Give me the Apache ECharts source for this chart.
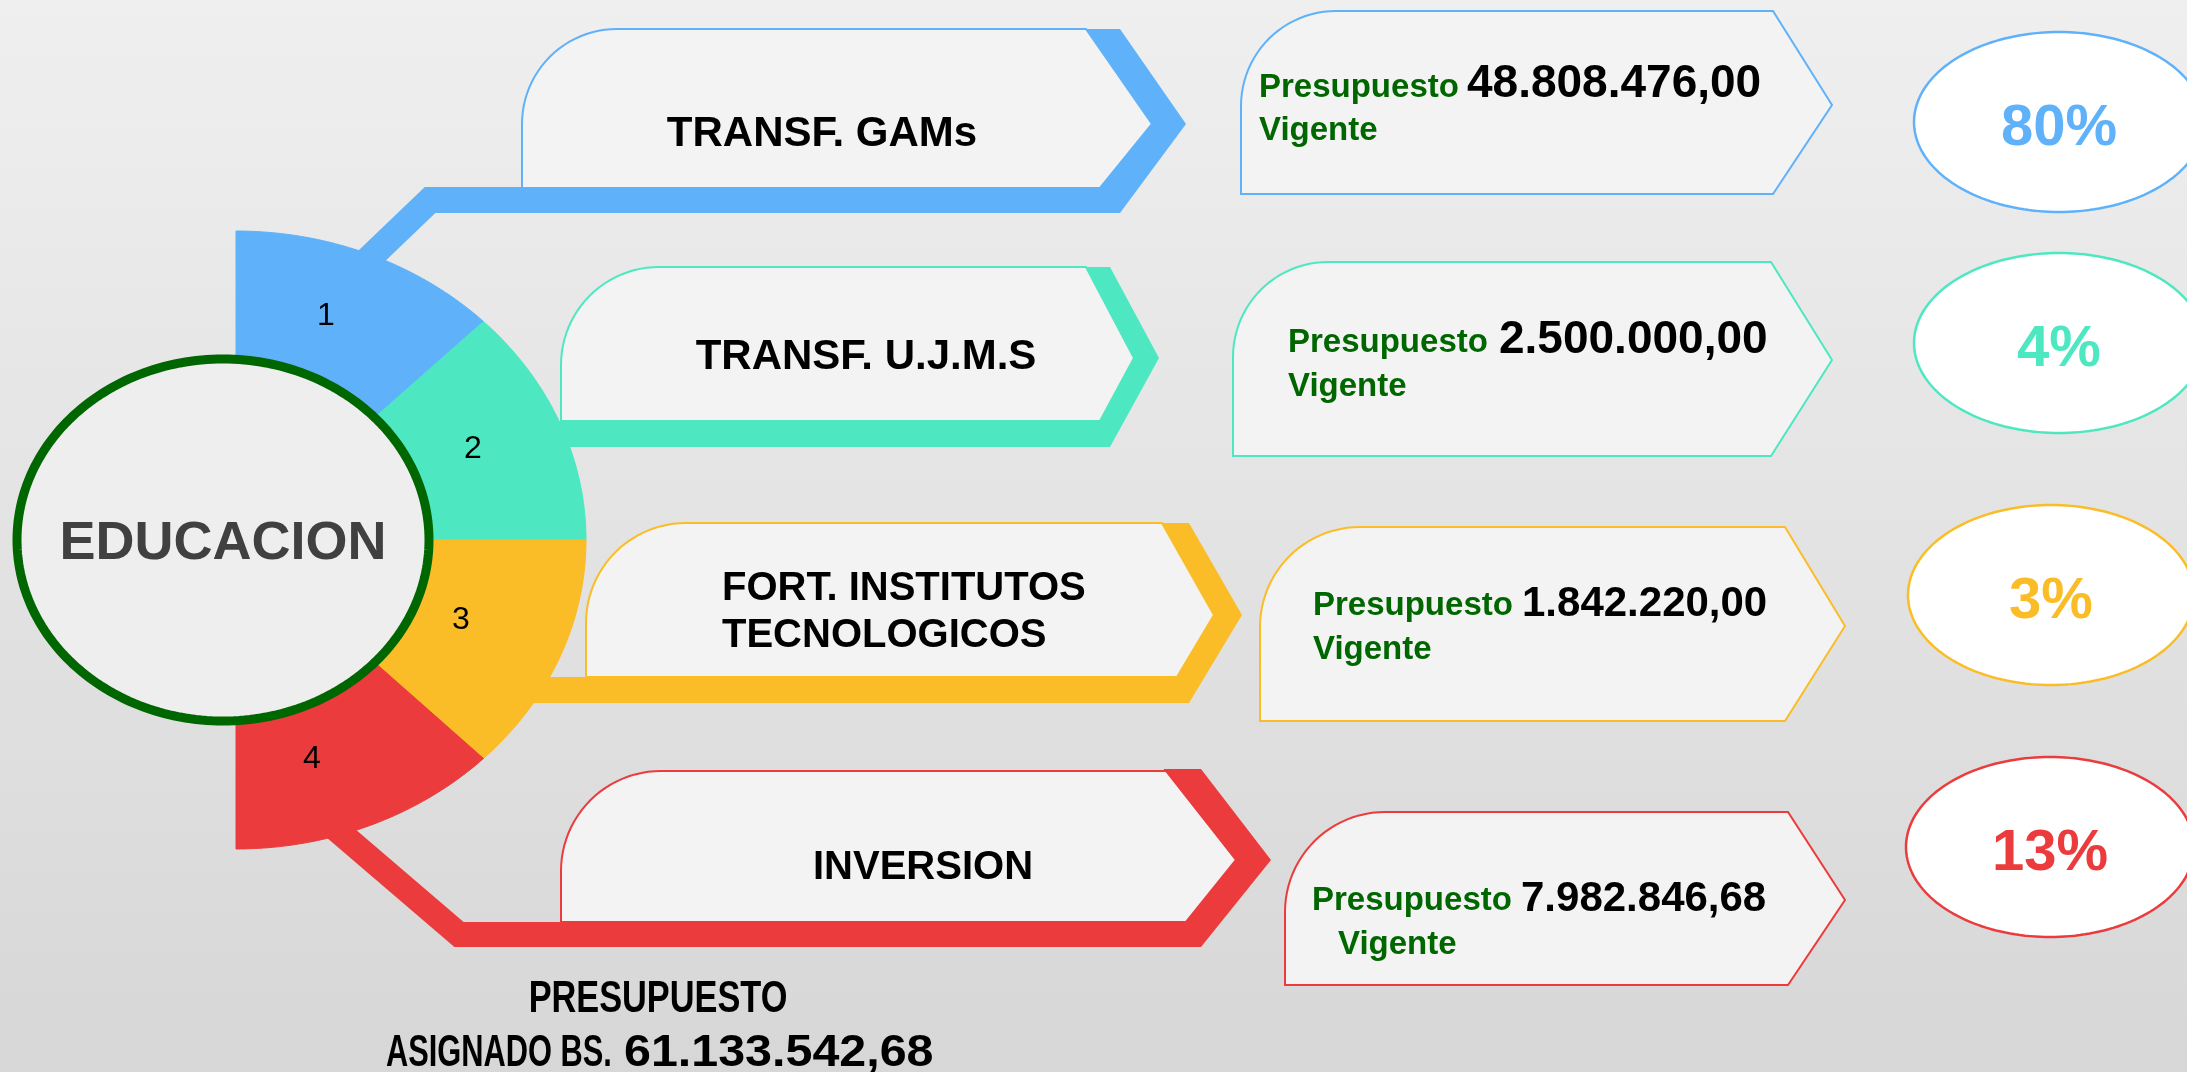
<!DOCTYPE html>
<html><head><meta charset="utf-8">
<script src="https://cdn.jsdelivr.net/npm/echarts@6/dist/echarts.min.js"></script>
<style>html,body{margin:0;padding:0;overflow:hidden;background:#e6e6e6}#c{width:2187px;height:1072px}</style>
</head><body><div id="c"></div>
<script>
// ---------- data ----------
const centerLabel = 'EDUCACION';
const sliceLabels = ['1', '2', '3', '4'];
const sliceValues = [1, 1, 1, 1];
const categories = ['TRANSF. GAMs', 'TRANSF. U.J.M.S', 'FORT. INSTITUTOS\nTECNOLOGICOS', 'INVERSION'];
const budgetWords = ['Presupuesto', 'Vigente'];
const budgets = ['48.808.476,00', '2.500.000,00', '1.842.220,00', '7.982.846,68'];
const percents = [80, 4, 3, 13];
const totalTitle = 'PRESUPUESTO';
const totalPrefix = 'ASIGNADO BS.';
const totalAmount = '61.133.542,68';

// ---------- styles / layout ----------
const colors = ['#5fb2fa', '#4de8c1', '#fbbd27', '#ec3b3c'];
const FONT = '"Liberation Sans", Arial, Helvetica, sans-serif';
const GREEN = '#006600';
const RC = { cx: 236, cy: 540, rx: 350, ry: 309 };
const sliceLabelPos = [[326, 316], [473, 449], [461, 620], [312, 759]];
const EL = { cx: 223, cy: 540, rx: 206, ry: 181 };
const rowLayout = [
  { conn: [[357, 270], [430, 200], [1120, 200]], lw: 26,
    box: { l: 522, t: 29, b: 188, tr: 1086, tx: 1152, ty: 124, br: 1100, r: 95 },
    outer: { x: 1120, tx: 1186, ty: 124, t: 29, b: 213 },
    label: { x: 822, base: 149, size: 42, align: 'center', lh: 50 },
    vbox: { l: 1241, t: 11, b: 194, tr: 1773, tx: 1832, ty: 105, br: 1773, r: 95 },
    pres: { x: 1259, base: 99 }, num: { x: 1467, base: 100, size: 46 }, vig: { x: 1259, base: 142 },
    pct: { cx: 2059, cy: 122, rx: 145, ry: 90 } },
  { conn: [[500, 434], [1110, 434]], lw: 26,
    box: { l: 561, t: 267, b: 421, tr: 1086, tx: 1134, ty: 358, br: 1100, r: 98 },
    outer: { x: 1110, tx: 1159, ty: 358, t: 267, b: 447 },
    label: { x: 866, base: 372, size: 42, align: 'center', lh: 50 },
    vbox: { l: 1233, t: 262, b: 456, tr: 1771, tx: 1832, ty: 360, br: 1771, r: 95 },
    pres: { x: 1288, base: 354 }, num: { x: 1499, base: 356, size: 46 }, vig: { x: 1288, base: 398 },
    pct: { cx: 2059, cy: 343, rx: 145, ry: 90 } },
  { conn: [[480, 690], [1189, 690]], lw: 26,
    box: { l: 586, t: 523, b: 677, tr: 1162, tx: 1214, ty: 615, br: 1177, r: 100 },
    outer: { x: 1189, tx: 1242, ty: 615, t: 523, b: 703 },
    label: { x: 722, base: 603, size: 40, align: 'left', lh: 47 },
    vbox: { l: 1260, t: 527, b: 721, tr: 1785, tx: 1845, ty: 626, br: 1785, r: 100 },
    pres: { x: 1313, base: 617 }, num: { x: 1522, base: 619, size: 42 }, vig: { x: 1313, base: 661 },
    pct: { cx: 2051, cy: 595, rx: 143, ry: 90 } },
  { conn: [[302, 800], [459, 934.5], [1201, 934.5]], lw: 25,
    box: { l: 561, t: 771, b: 922, tr: 1166, tx: 1236, ty: 860, br: 1186, r: 100 },
    outer: { x: 1201, tx: 1271, ty: 860, t: 769, b: 947 },
    label: { x: 923, base: 882, size: 40, align: 'center', lh: 50 },
    vbox: { l: 1285, t: 812, b: 985, tr: 1788, tx: 1845, ty: 900, br: 1788, r: 100 },
    pres: { x: 1312, base: 912 }, num: { x: 1521, base: 914, size: 42 }, vig: { x: 1338, base: 956 },
    pct: { cx: 2050, cy: 847, rx: 144, ry: 90 } }
];

// ---------- helpers ----------
function ellipsePts(cx, cy, rx, ry, n) {
  const p = [];
  for (let i = 0; i < n; i++) { const a = i / n * Math.PI * 2; p.push([cx + rx * Math.cos(a), cy + ry * Math.sin(a)]); }
  return p;
}
function boxPts(b) {
  const p = [[b.l, b.b]];
  const n = 24;
  for (let i = 0; i <= n; i++) {
    const a = Math.PI + i / n * Math.PI / 2;
    p.push([b.l + b.r + b.r * Math.cos(a), b.t + b.r + b.r * Math.sin(a)]);
  }
  p.push([b.tr, b.t], [b.tx, b.ty], [b.br, b.b]);
  return p;
}
function txt(x, base, text, size, color, align, weight, z, scaleX, family) {
  return { type: 'text', x: x, y: base - 0.347 * size, scaleX: scaleX || 1, z: z, silent: true,
    style: { text: text, fill: color, font: (weight || 'normal') + ' ' + size + 'px ' + (family || FONT),
      align: align || 'left', verticalAlign: 'middle' } };
}

// ---------- graphic elements ----------
const els = [];
els.push({ type: 'rect', z: -10, silent: true, shape: { x: 0, y: 0, width: 2187, height: 1072 },
  style: { fill: new echarts.graphic.LinearGradient(0, 0, 0, 1, [
    { offset: 0, color: '#efefef' }, { offset: 1, color: '#d7d7d7' }]) } });

rowLayout.forEach((L, i) => {
  const c = colors[i];
  els.push({ type: 'polyline', z: 1, silent: true, shape: { points: L.conn },
    style: { stroke: c, lineWidth: L.lw, fill: null, lineJoin: 'miter', lineCap: 'butt' } });
  const o = L.outer;
  els.push({ type: 'polygon', z: 1, silent: true,
    shape: { points: [[L.box.tr - 2, o.t], [o.x, o.t], [o.tx, o.ty], [o.x, o.b], [L.box.tr - 40, o.b]] },
    style: { fill: c } });
  els.push({ type: 'polygon', z: 5, silent: true, shape: { points: boxPts(L.box) },
    style: { fill: '#f3f3f3', stroke: c, lineWidth: 2 } });
  const lines = categories[i].split('\n');
  lines.forEach((s, k) => els.push(txt(L.label.x, L.label.base + k * L.label.lh, s, L.label.size, '#000', L.label.align, 'bold', 6)));
  els.push({ type: 'polygon', z: 5, silent: true, shape: { points: boxPts(L.vbox) },
    style: { fill: '#f3f3f3', stroke: c, lineWidth: 2 } });
  els.push(txt(L.pres.x, L.pres.base, budgetWords[0], 33, GREEN, 'left', 'bold', 6));
  els.push(txt(L.vig.x, L.vig.base, budgetWords[1], 33, GREEN, 'left', 'bold', 6));
  els.push(txt(L.num.x, L.num.base, budgets[i], L.num.size, '#000', 'left', 'bold', 6));
  const P = L.pct;
  els.push({ type: 'polygon', z: 5, silent: true, shape: { points: ellipsePts(P.cx, P.cy, P.rx, P.ry, 180) },
    style: { fill: '#ffffff', stroke: c, lineWidth: 2.5 } });
  els.push(txt(P.cx, P.cy + 0.347 * 58 + 7, percents[i] + '%', 58, c, 'center', 'bold', 6));
});

els.push({ type: 'polygon', z: 4, silent: true, shape: { points: ellipsePts(EL.cx, EL.cy, EL.rx, EL.ry, 240) },
  style: { fill: '#eeeeee', stroke: GREEN, lineWidth: 9 } });
els.push(txt(EL.cx, EL.cy + 0.347 * 54 + 4, centerLabel, 54, '#404040', 'center', 'bold', 6));

els.push(txt(658, 1015, totalTitle, 44, '#000', 'center', 'bold', 6, 0.78));
els.push(txt(386, 1069, totalPrefix, 44, '#000', 'left', 'bold', 6, 0.7));
els.push(txt(624, 1069, totalAmount, 44, '#000', 'left', 'bold', 6, 1.1));

// ---------- chart ----------
const chart = echarts.init(document.getElementById('c'), null, { renderer: 'canvas' });
const total = sliceValues.reduce((a, b) => a + b, 0);
chart.setOption({
  animation: false,
  graphic: { elements: els },
  series: [{
    type: 'custom', coordinateSystem: 'none', z: 2, silent: true,
    data: sliceValues.map((v, i) => ({ value: v, name: sliceLabels[i] })),
    renderItem: function (params, api) {
      const i = params.dataIndex;
      let cum = 0;
      for (let k = 0; k < i; k++) cum += sliceValues[k];
      const v = api.value(0);
      const a0 = 90 - cum / total * 180, a1 = 90 - (cum + v) / total * 180;
      const pts = [[RC.cx, RC.cy]];
      const n = 60;
      for (let s = 0; s <= n; s++) {
        const a = (a0 + (a1 - a0) * s / n) * Math.PI / 180;
        pts.push([RC.cx + RC.rx * Math.cos(a), RC.cy - RC.ry * Math.sin(a)]);
      }
      const lp = sliceLabelPos[i];
      return { type: 'group', children: [
        { type: 'polygon', shape: { points: pts }, style: { fill: colors[i], stroke: colors[i], lineWidth: 1 } },
        { type: 'text', x: lp[0], y: lp[1],
          style: { text: sliceLabels[i], fill: '#000', font: '32px ' + FONT, align: 'center', verticalAlign: 'middle' } }
      ] };
    }
  }]
});
</script></body></html>
